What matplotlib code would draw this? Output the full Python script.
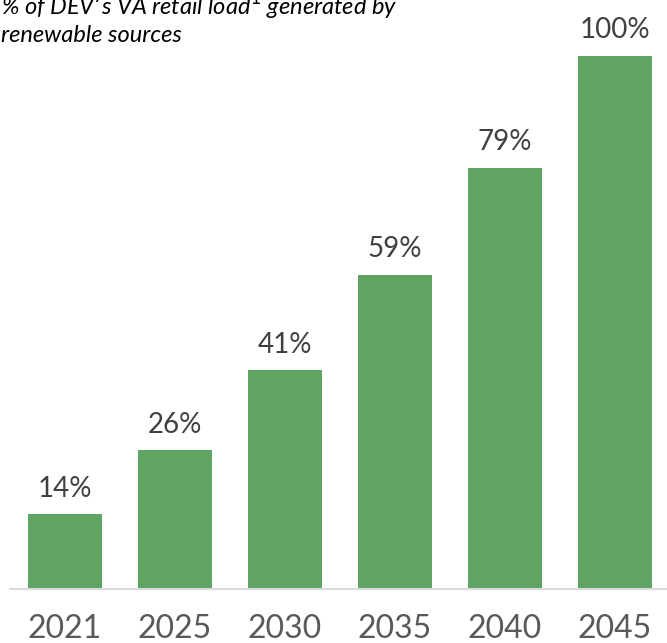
import matplotlib
matplotlib.use('Agg')
import matplotlib.pyplot as plt

years = ['2021', '2025', '2030', '2035', '2040', '2045']
renewable_pct = [14, 26, 41, 59, 79, 100]

plt.rcParams['font.family'] = ['Lato', 'DejaVu Sans']

fig = plt.figure(figsize=(6.67, 6.43), dpi=100)
ax = fig.add_axes([10/667, (643-589)/643, 660/667, 533/643])

x = range(len(years))
ax.bar(x, renewable_pct, width=0.665, color='#5fa463')
ax.set_xlim(-0.5, 5.5)
ax.set_ylim(0, 100)

for xi, v in zip(x, renewable_pct):
    ax.annotate(f'{v}%', (xi, v), xytext=(0, 9), textcoords='offset points',
                ha='center', va='bottom', fontsize=20, color='#404040')

ax.set_xticks(list(x))
ax.set_xticklabels(years, fontsize=23, color='#595959')
ax.tick_params(axis='x', length=0, pad=18)
ax.set_yticks([])
for s in ['top', 'right', 'left']:
    ax.spines[s].set_visible(False)
ax.spines['bottom'].set_color('#d9d9d9')
ax.spines['bottom'].set_linewidth(1.5)
ax.patch.set_alpha(0)

fig.text(0.002, 1 - 42/643, '% of DEV\u2019s VA retail load$^1$ generated by\nrenewable sources',
         ha='left', va='baseline', fontsize=17, style='italic', color='#000000',
         linespacing=1.2)

fig.savefig('out.png', dpi=100)
